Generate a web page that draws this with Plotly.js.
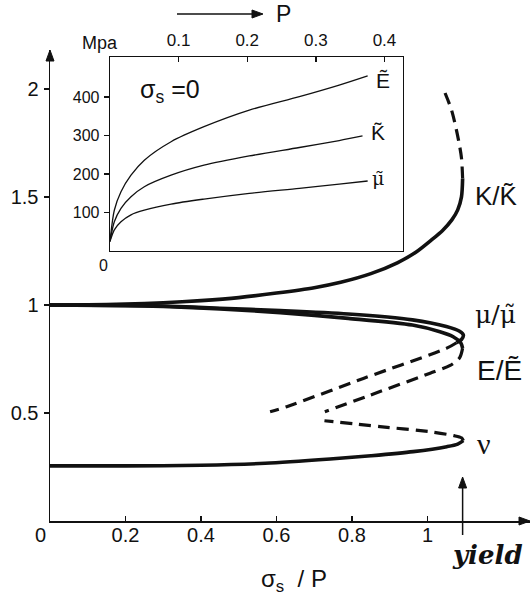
<!DOCTYPE html>
<html>
<head>
<meta charset="utf-8">
<script src="https://cdn.plot.ly/plotly-3.0.1.min.js"></script>
<style>html,body{margin:0;padding:0;background:#fff;}#chart{width:530px;height:601px;}</style>
</head>
<body>
<div id="chart"></div>
<script>
// ---- main chart data (x = sigma_s / P, y = normalised modulus) ----
const kSolidX = [0, 0.1, 0.2, 0.3, 0.4, 0.5, 0.6, 0.7, 0.77, 0.85, 0.92, 0.97, 1.01, 1.04, 1.065, 1.08, 1.09, 1.093];
const kSolidY = [1, 1.001, 1.004, 1.01, 1.02, 1.034, 1.055, 1.08, 1.105, 1.145, 1.195, 1.245, 1.3, 1.345, 1.395, 1.44, 1.5, 1.585];
const kDashX = [1.093, 1.09, 1.082, 1.064, 1.042];
const kDashY = [1.585, 1.68, 1.764, 1.9, 2.0];

const muSolidX = [0, 0.2, 0.3, 0.45, 0.61, 0.79, 0.96, 1.05, 1.085, 1.095, 1.09, 1.077];
const muSolidY = [1, 0.998, 0.995, 0.985, 0.974, 0.958, 0.931, 0.9, 0.878, 0.86, 0.84, 0.825];
const muDashX = [1.077, 1.051, 0.83, 0.627, 0.583];
const muDashY = [0.825, 0.8, 0.66, 0.529, 0.506];

const eSolidX = [0, 0.2, 0.3, 0.45, 0.61, 0.79, 0.96, 1.033, 1.068, 1.088, 1.093];
const eSolidY = [1, 0.997, 0.993, 0.982, 0.964, 0.938, 0.907, 0.876, 0.853, 0.825, 0.8];
const eDashX = [1.093, 1.085, 1.06, 1.007, 0.874, 0.728];
const eDashY = [0.8, 0.755, 0.72, 0.684, 0.599, 0.506];

const nuSolidX = [0, 0.2, 0.4, 0.57, 0.742, 0.85, 0.962, 1.051, 1.08, 1.095];
const nuSolidY = [0.255, 0.255, 0.258, 0.267, 0.287, 0.302, 0.321, 0.344, 0.356, 0.372];
const nuDashX = [1.095, 1.09, 1.07, 1.007, 0.874, 0.727];
const nuDashY = [0.372, 0.385, 0.395, 0.413, 0.437, 0.464];

const mainXTicks = [0.2, 0.4, 0.6, 0.8, 1];
const mainXLabels = ['0.2', '0.4', '0.6', '0.8', '1'];
const mainYTicks = [0.5, 1, 1.5, 2];
const mainYLabels = ['0.5', '1', '1.5', '2'];
const yieldX = 1.093;

// ---- inset data (P in MPa, modulus in MPa, sigma_s = 0) ----
const insetP = [0, 0.0063, 0.016, 0.0306, 0.05, 0.089, 0.137, 0.203, 0.276, 0.334, 0.3755];
const insetPK = [0, 0.0063, 0.016, 0.0306, 0.05, 0.089, 0.137, 0.203, 0.276, 0.334, 0.368];
const insetE = [25, 106, 154, 197, 236, 284, 323, 366, 401, 431, 455];
const insetK = [25, 76, 111, 141, 167, 197, 223, 247, 269, 287, 299];
const insetMu = [25, 55, 76, 94, 106, 122, 135, 150, 163, 174, 182];
const insetXTicks = [0.1, 0.2, 0.3, 0.4];
const insetYTicks = [100, 200, 300, 400];

// ---- build ----
const SANS = 'Liberation Sans, Arial, sans-serif';
const SERIF = 'DejaVu Serif, serif';
const TIMES = 'Liberation Serif, Times New Roman, serif';
const solid = {color: '#111', width: 3.6, shape: 'spline', smoothing: 0.8};
const dashed = {color: '#111', width: 3.2, dash: '12px,7px', shape: 'spline', smoothing: 0.8};
function tr(x, y, line, xa, ya) {
  return {x: x, y: y, mode: 'lines', line: line, xaxis: xa || 'x', yaxis: ya || 'y', hoverinfo: 'skip', cliponaxis: false};
}
const thin = {color: '#111', width: 1.3, shape: 'spline', smoothing: 0.8};
const data = [
  tr(kSolidX, kSolidY, solid), tr(kDashX, kDashY, dashed),
  tr(muSolidX, muSolidY, solid), tr(muDashX, muDashY, dashed),
  tr(eSolidX, eSolidY, solid), tr(eDashX, eDashY, dashed),
  tr(nuSolidX, nuSolidY, solid), tr(nuDashX, nuDashY, dashed),
  tr(insetP, insetE, thin, 'x2', 'y2'),
  tr(insetPK, insetK, thin, 'x2', 'y2'),
  tr(insetP, insetMu, thin, 'x2', 'y2')
];

// pixel -> paper helpers for label / arrow placement
const ML = 50, MT = 50, PW = 480, PH = 471;
const X_PX = PW / 1.2715;
function px2x(px) { return (px - ML) / PW; }
function py2y(py) { return (MT + PH - py) / PH; }
function at(px, py) { return {x: px2x(px), y: py2y(py), xref: 'paper', yref: 'paper'}; }
function label(px, py, text, size, family, extra) {
  return Object.assign(at(px, py), {text: text, showarrow: false, xanchor: 'center', yanchor: 'middle',
    font: {size: size, family: family, color: '#111'}}, extra || {});
}
function lineShape(x0, y0, x1, y1) {
  return {type: 'line', xref: 'paper', yref: 'paper', x0: px2x(x0), y0: py2y(y0), x1: px2x(x1), y1: py2y(y1),
    line: {color: '#111', width: 1.5}, layer: 'above'};
}
function head(tx, ty, dx, dy) {
  // triangle with tip (tx,ty), pointing in direction (dx,dy) (unit), length 11, half-width 4
  const L = 11, W = 4;
  const bx = tx - dx * L, by = ty - dy * L;
  const p1 = [bx - dy * W, by + dx * W], p2 = [bx + dy * W, by - dx * W];
  const pts = [[tx, ty], p1, p2].map(p => px2x(p[0]) + ',' + py2y(p[1]));
  return {type: 'path', xref: 'paper', yref: 'paper', path: 'M' + pts.join(' L') + ' Z',
    fillcolor: '#111', line: {color: '#111', width: 1}, layer: 'above'};
}
const yieldPx = ML + yieldX * X_PX;
const shapes = [
  lineShape(177, 14, 254, 14), head(263, 14, 1, 0),
  head(50, 50, 0, -1),
  head(530, 521, 1, 0),
  lineShape(yieldPx, 535, yieldPx, 486), head(yieldPx, 477, 0, -1)
];

const annotations = [
  label(40, 535, '0', 20, SANS),
  label(495, 314, '\u03bc/\u03bc\u0303', 25, SERIF),
  label(496, 196, 'K/K\u0303', 26, SANS),
  label(499, 370, 'E/E\u0303', 28, SANS),
  label(484, 443, '\u03bd', 30, TIMES),
  label(487, 555, '<b><i>yield</i></b>', 26, 'DejaVu Serif, serif'),
  label(294, 580, '\u03c3<sub>s</sub>\u00a0\u00a0/\u00a0P', 24, SANS),
  label(100, 43, 'Mpa', 18, SANS),
  label(103, 265, '0', 16, SANS),
  label(170, 91, '\u03c3<sub>s</sub>\u00a0=0', 25, SANS),
  label(383, 80, 'E\u0303', 21, SANS),
  label(378, 132, 'K\u0303', 21, SANS),
  label(378, 178, '\u03bc\u0303', 19, SERIF),
  label(283, 14, 'P', 23, SANS)
];

const axisCommon = {showgrid: false, zeroline: false, showline: true, linecolor: '#111', linewidth: 1.5,
  ticks: 'outside', ticklen: 5, tickwidth: 1.3, tickcolor: '#111', tickmode: 'array',
  tickfont: {size: 20, family: SANS, color: '#111'}};

const layout = {
  width: 530, height: 601,
  margin: {l: ML, r: 530 - ML - PW, t: MT, b: 601 - MT - PH, pad: 0},
  paper_bgcolor: '#fff', plot_bgcolor: 'rgba(0,0,0,0)',
  showlegend: false,
  xaxis: Object.assign({}, axisCommon, {range: [0, 1.2715], tickvals: mainXTicks, ticktext: mainXLabels, anchor: 'y',
    ticks: 'inside', ticklen: 5, ticklabelstandoff: -5}),
  yaxis: Object.assign({}, axisCommon, {range: [0, 2.18], tickvals: mainYTicks, ticktext: mainYLabels, anchor: 'x', ticklabelstandoff: 1}),
  xaxis2: Object.assign({}, axisCommon, {domain: [0.125, 0.7354], anchor: 'y2', side: 'top', range: [0, 0.427],
    tickvals: insetXTicks, ticktext: insetXTicks.map(String), ticks: 'inside', mirror: true, linewidth: 1.3,
    tickfont: {size: 17, family: SANS, color: '#111'}, ticklabelstandoff: 3}),
  yaxis2: Object.assign({}, axisCommon, {domain: [0.5732, 0.985], anchor: 'x2', range: [0, 504],
    tickvals: insetYTicks, ticktext: insetYTicks.map(String), mirror: true, linewidth: 1.3,
    tickfont: {size: 16, family: SANS, color: '#111'}, ticklabelstandoff: 1}),
  annotations: annotations,
  shapes: shapes
};

Plotly.newPlot('chart', data, layout, {displayModeBar: false, staticPlot: true});
</script>
</body>
</html>
